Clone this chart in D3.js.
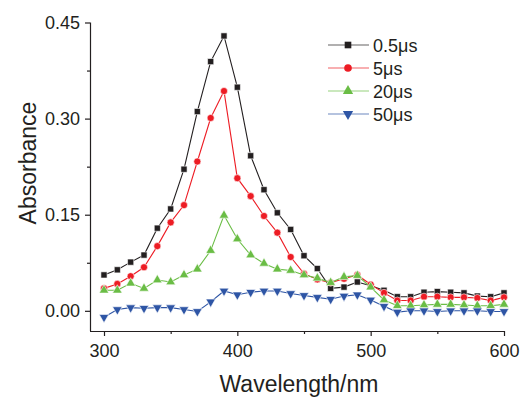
<!DOCTYPE html>
<html lang="en">
<head>
<meta charset="UTF-8">
<title>Absorbance</title>
<script src="https://d3js.org/d3.v7.min.js"></script>
<style>
  body { margin: 0; background: #fff; }
  svg text { font-family: "Liberation Sans", Arial, sans-serif; fill: #231f20; }
  .axis path, .axis line { stroke: #231f20; stroke-width: 1.2px; }
  .axis text { font-size: 18px; }
  .title { font-size: 23px; }
  .legend text { font-size: 18px; }
</style>
</head>
<body>
<svg width="520" height="398"></svg>
<script>
var wavelengths = [300, 310, 320, 330, 340, 350, 360, 370, 380, 390, 400, 410, 420, 430, 440,
                   450, 460, 470, 480, 490, 500, 510, 520, 530, 540, 550, 560, 570, 580, 590, 600];

var abs05 = [0.056, 0.064, 0.076, 0.087, 0.129, 0.159, 0.221, 0.311, 0.389, 0.429, 0.349, 0.242, 0.189, 0.153, 0.127,
             0.086, 0.066, 0.035, 0.037, 0.045, 0.039, 0.032, 0.022, 0.022, 0.029, 0.030, 0.029, 0.028, 0.023, 0.022, 0.028];
var abs5 = [0.035, 0.042, 0.054, 0.068, 0.101, 0.138, 0.165, 0.233, 0.301, 0.343, 0.207, 0.179, 0.148, 0.122, 0.084,
            0.058, 0.049, 0.044, 0.050, 0.056, 0.041, 0.028, 0.016, 0.016, 0.022, 0.022, 0.021, 0.021, 0.020, 0.016, 0.021];
var abs20 = [0.032, 0.032, 0.043, 0.035, 0.048, 0.045, 0.056, 0.065, 0.094, 0.149, 0.112, 0.087, 0.074, 0.065, 0.063,
             0.056, 0.051, 0.044, 0.053, 0.055, 0.037, 0.017, 0.008, 0.008, 0.009, 0.010, 0.010, 0.009, 0.008, 0.008, 0.010];
var abs50 = [-0.010, 0.002, 0.005, 0.004, 0.005, 0.005, 0.002, -0.001, 0.014, 0.031, 0.025, 0.029, 0.031, 0.031, 0.027,
             0.024, 0.021, 0.018, 0.023, 0.025, 0.017, 0.007, -0.002, 0.000, 0.000, -0.001, 0.000, 0.000, 0.000, -0.001, -0.001];

var seriesNames = ["0.5\u03bcs", "5\u03bcs", "20\u03bcs", "50\u03bcs"];
var xMajor = [300, 400, 500, 600];
var xMinor = [350, 450, 550];
var yMajor = [0.00, 0.15, 0.30, 0.45];
var yMinor = [0.075, 0.225, 0.375];

var series = [
  { name: seriesNames[0], values: abs05, color: "#231f20", line: "#231f20", symbol: d3.symbolSquare, size: 38, rot: 0 },
  { name: seriesNames[1], values: abs5,  color: "#ed1c24", line: "#ed1c24", symbol: d3.symbolCircle, size: 40, rot: 0 },
  { name: seriesNames[2], values: abs20, color: "#6abd45", line: "#6abd45", symbol: d3.symbolTriangle, size: 40, rot: 0 },
  { name: seriesNames[3], values: abs50, color: "#2e55a5", line: "#2e55a5", symbol: d3.symbolTriangle, size: 40, rot: 180 }
];

var svg = d3.select("svg");

var x = d3.scaleLinear().domain([289.5, 600]).range([90, 504]);
var y = d3.scaleLinear().domain([-0.0315, 0.45]).range([331, 22.5]);

// axes
svg.append("g").attr("class", "axis")
   .attr("transform", "translate(0,331)")
   .call(d3.axisBottom(x).tickValues(xMajor).tickSize(5).tickPadding(8).tickFormat(d3.format("d")))
   .call(function(g) { g.selectAll("text").attr("dy", "0.71em"); });
svg.append("g").attr("class", "axis")
   .attr("transform", "translate(0,331)")
   .call(d3.axisBottom(x).tickValues(xMinor).tickSize(3).tickFormat(""))
   .call(function(g) { g.select(".domain").remove(); });

svg.append("g").attr("class", "axis")
   .attr("transform", "translate(90,0)")
   .call(d3.axisLeft(y).tickValues(yMajor).tickSize(5).tickPadding(5).tickFormat(d3.format(".2f")));
svg.append("g").attr("class", "axis")
   .attr("transform", "translate(90,0)")
   .call(d3.axisLeft(y).tickValues(yMinor).tickSize(3).tickFormat(""))
   .call(function(g) { g.select(".domain").remove(); });

svg.selectAll(".axis .domain").attr("d", function() {
  return d3.select(this.parentNode).attr("transform") === "translate(0,331)"
    ? "M90,0.5H504" : "M0.5,22.5V331";
});

// titles
svg.append("text").attr("class", "title")
   .attr("x", 299).attr("y", 392)
   .attr("text-anchor", "middle")
   .text("Wavelength/nm");
svg.append("text").attr("class", "title")
   .attr("transform", "translate(36,163) rotate(-90)")
   .attr("text-anchor", "middle")
   .text("Absorbance");

// lines and markers
var line = d3.line()
  .x(function(d, i) { return x(wavelengths[i]); })
  .y(function(d) { return y(d); });

series.forEach(function(s) {
  var g = svg.append("g");
  g.append("path")
   .datum(s.values)
   .attr("d", line)
   .attr("fill", "none")
   .attr("stroke", s.line)
   .attr("stroke-width", 1.1);
  g.selectAll("path.pt")
   .data(s.values)
   .enter().append("path")
   .attr("class", "pt")
   .attr("d", d3.symbol().type(s.symbol).size(s.size))
   .attr("transform", function(d, i) {
     return "translate(" + x(wavelengths[i]) + "," + y(d) + ") rotate(" + s.rot + ")";
   })
   .attr("fill", s.color)
   .attr("stroke", "#fff")
   .attr("stroke-width", 0.6);
});

// legend
var legend = svg.append("g").attr("class", "legend")
  .attr("transform", "translate(328,45)");
var items = legend.selectAll("g")
  .data(series)
  .enter().append("g")
  .attr("transform", function(d, i) { return "translate(0," + (i * 23) + ")"; });
items.append("line")
  .attr("x1", 0).attr("x2", 41)
  .attr("stroke", function(d) { return d.line; })
  .attr("stroke-opacity", 0.7)
  .attr("stroke-width", 1.2);
items.append("path")
  .attr("d", function(d) { return d3.symbol().type(d.symbol).size(d.size + 6)(); })
  .attr("transform", function(d) { return "translate(20,0) rotate(" + d.rot + ")"; })
  .attr("fill", function(d) { return d.color; });
items.append("text")
  .attr("x", 45).attr("y", 6.5)
  .text(function(d) { return d.name; });
</script>
</body>
</html>
